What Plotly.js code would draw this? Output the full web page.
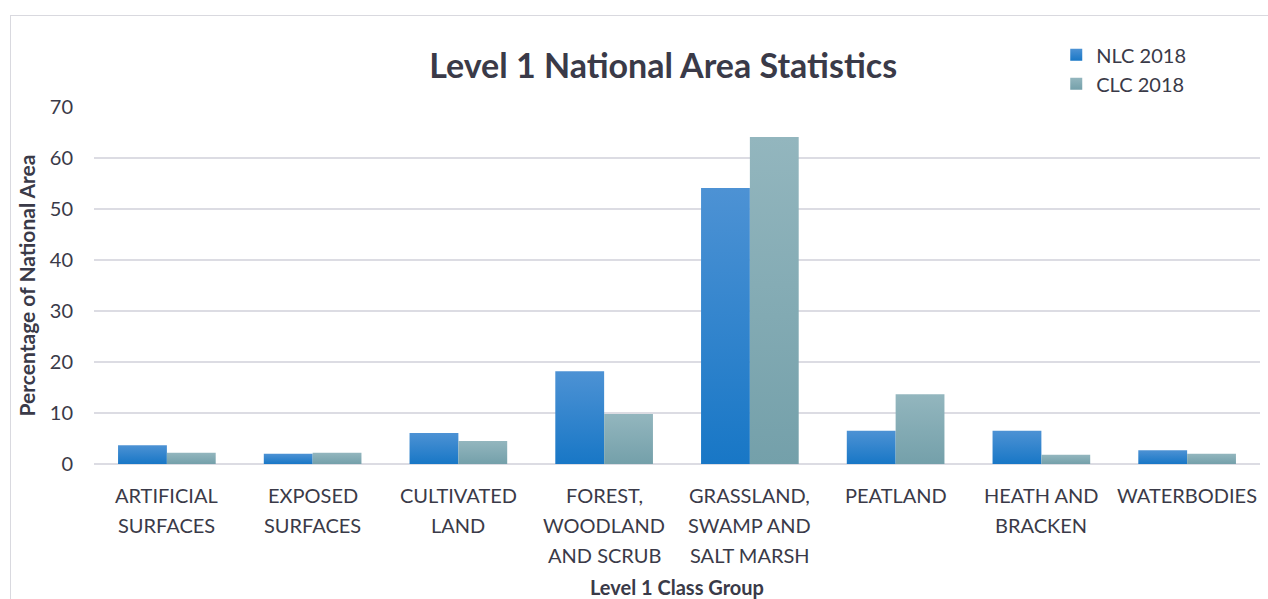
<!DOCTYPE html>
<html>
<head>
<meta charset="utf-8">
<script src="https://cdn.plot.ly/plotly-3.0.1.min.js"></script>
<style>
html,body{margin:0;padding:0;background:#fff;}
#chart{width:1268px;height:599px;position:relative;}
#frame{position:absolute;left:10px;top:15px;width:1270px;height:600px;border:1.5px solid #d9d9df;pointer-events:none;box-sizing:border-box;}
</style>
</head>
<body>
<div id="chart"></div>
<div id="frame"></div>
<script>
const categories = [
  "ARTIFICIAL<br>SURFACES",
  "EXPOSED<br>SURFACES",
  "CULTIVATED<br>LAND",
  "FOREST,<br>WOODLAND<br>AND SCRUB",
  "GRASSLAND,<br>SWAMP AND<br>SALT MARSH",
  "PEATLAND",
  "HEATH AND<br>BRACKEN",
  "WATERBODIES"
];
const nlc2018 = [3.7, 2.0, 6.1, 18.2, 54.1, 6.5, 6.5, 2.7];
const clc2018 = [2.2, 2.2, 4.5, 9.8, 64.1, 13.7, 1.8, 2.0];
const seriesNames = ["NLC 2018", "CLC 2018"];

const font = "Lato, 'Open Sans', sans-serif";
const textColor = "#3a3a48";
const traces = [
  {type:"bar", name:seriesNames[0], x:categories, y:nlc2018, marker:{color:"#2a84d0"}},
  {type:"bar", name:seriesNames[1], x:categories, y:clc2018, marker:{color:"#86adb6"}}
];

// category labels drawn line by line under each category (30px line spacing)
const annotations = [];
categories.forEach(function(cat){
  cat.split("<br>").forEach(function(line, j){
    annotations.push({xref:"x", yref:"paper", x:cat, y:0, yshift:-(31 + 30*j), xanchor:"center", yanchor:"middle",
      text:line, showarrow:false, font:{family:font, size:20, color:textColor}});
  });
});
annotations.push({xref:"paper", yref:"paper", x:0.5, y:0, yshift:-123, xanchor:"center", yanchor:"middle",
  text:"<b>Level 1 Class Group</b>", showarrow:false, font:{family:font, size:20, color:textColor}});

const layout = {
  width:1268, height:599,
  margin:{l:94, r:8, t:107, b:135, autoexpand:false},
  paper_bgcolor:"rgba(0,0,0,0)", plot_bgcolor:"#fff",
  barmode:"group", bargap:0.33, bargroupgap:0,
  font:{family:font, color:textColor, size:19},
  title:{text:"<b>Level 1 National Area Statistics</b>", x:0.523, xanchor:"center", y:0.89, yanchor:"middle",
         font:{family:font, size:34, color:textColor}},
  showlegend:true,
  legend:{xref:"container", yref:"container", x:0.833, xanchor:"left", y:0.941, yanchor:"top",
          font:{size:20, color:textColor}, bgcolor:"rgba(0,0,0,0)", tracegroupgap:0},
  annotations:annotations,
  xaxis:{type:"category", showgrid:false, showline:false, zeroline:false, ticks:"", showticklabels:false, automargin:false},
  yaxis:{range:[0,70], dtick:10, showgrid:true, gridcolor:"#dcdce3", gridwidth:1.5, zeroline:true, zerolinecolor:"#dcdce3", zerolinewidth:1.5,
         showline:false, ticks:"", tickfont:{size:20, color:textColor}, ticklabelstandoff:20, automargin:false,
         title:{text:"<b>Percentage of National Area</b>", font:{size:21, color:textColor}, standoff:8}}
};
Plotly.newPlot("chart", traces, layout, {displayModeBar:false, staticPlot:true}).then(function(gd){
  const svg = gd.querySelector("svg.main-svg");
  const ns = "http://www.w3.org/2000/svg";
  let defs = svg.querySelector("defs");
  function grad(id, top, bot){
    const g = document.createElementNS(ns, "linearGradient");
    g.setAttribute("id", id); g.setAttribute("x1","0"); g.setAttribute("y1","0"); g.setAttribute("x2","0"); g.setAttribute("y2","1");
    [[0,top],[1,bot]].forEach(function(s){
      const st = document.createElementNS(ns,"stop");
      st.setAttribute("offset", s[0]); st.setAttribute("stop-color", s[1]); g.appendChild(st);
    });
    defs.appendChild(g);
  }
  grad("gNLC", "#4d92d4", "#1877c6");
  grad("gCLC", "#93b6be", "#74a0aa");
  const ids = ["gNLC","gCLC"];
  gd.querySelectorAll(".barlayer .trace").forEach(function(t, i){
    t.querySelectorAll("path").forEach(function(p){ p.style.fill = "url(#"+ids[i]+")"; });
  });
  gd.querySelectorAll(".legend .traces").forEach(function(t, i){
    t.querySelectorAll(".legendpoints path").forEach(function(p){ p.style.fill = "url(#"+ids[i]+")"; });
  });
});
</script>
</body>
</html>
